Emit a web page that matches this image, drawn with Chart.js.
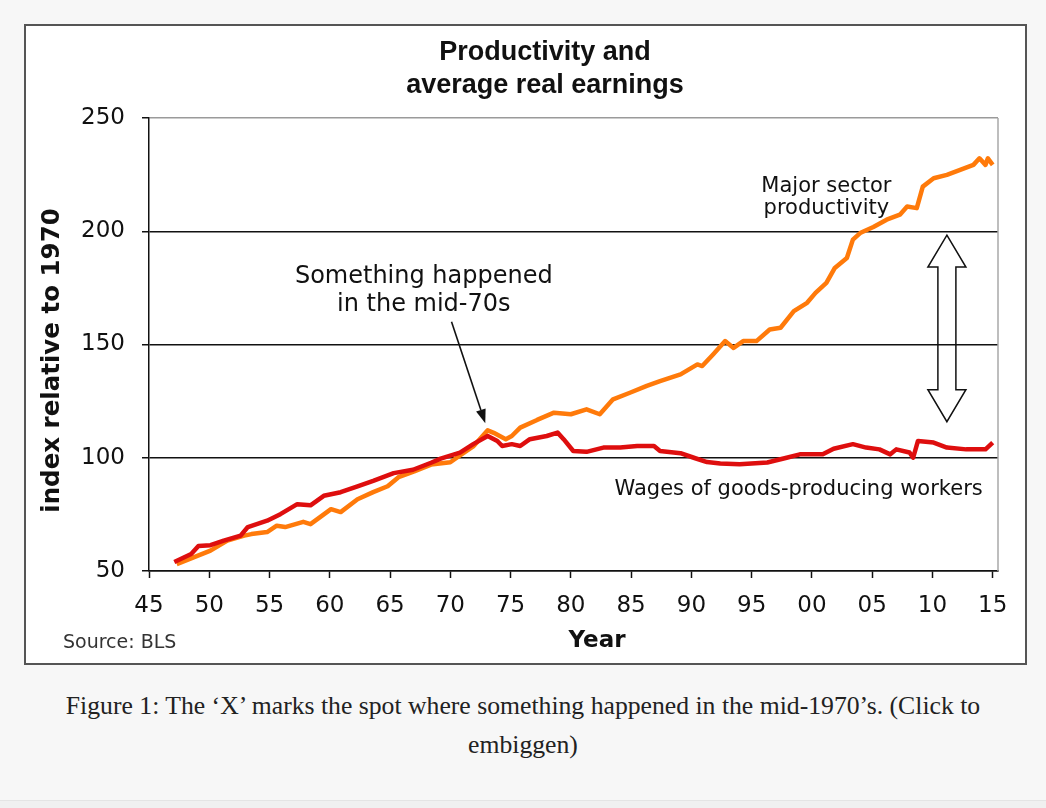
<!DOCTYPE html>
<html>
<head>
<meta charset="utf-8">
<script src="https://cdn.jsdelivr.net/npm/chart.js@4.4.0/dist/chart.umd.min.js"></script>
<style>
html, body { margin: 0; padding: 0; background: #f7f7f7; width: 1046px; height: 808px; overflow: hidden; }
#frame { position: absolute; left: 24px; top: 24px; width: 999px; height: 637px; border: 2px solid #555; background: #fff; }
#frame canvas { display: block; }
#caption { position: absolute; left: 0; top: 686px; width: 1046px; margin: 0; text-align: center;
  font-family: "Liberation Serif", serif; font-size: 25.7px; line-height: 39px; color: #222; }
#foot { position: absolute; left: 0; top: 800px; width: 1046px; height: 8px; background: #f0f0f0; border-top: 1px solid #e4e4e4; }
</style>
</head>
<body>
<div id="frame"><canvas id="chart" width="999" height="637"></canvas></div>
<p id="caption">Figure 1: The ‘X’ marks the spot where something happened in the mid-1970’s. (Click to<br>embiggen)</p>
<div id="foot"></div>
<script>
// values, index 1970 = 100
const prodYears = [1947.3, 1948.7, 1950.1, 1951.5, 1952.9, 1953.5, 1954.8, 1955.6, 1956.3, 1957.8,
  1958.4, 1960.1, 1960.9, 1962.3, 1963.6, 1964.8, 1965.7, 1967.0, 1968.4, 1970.0,
  1970.8, 1971.9, 1973.1, 1973.6, 1974.6, 1975.1, 1975.8, 1977.2, 1978.6, 1980.0,
  1981.3, 1982.4, 1983.5, 1984.9, 1986.3, 1987.4, 1989.1, 1990.5, 1990.9, 1991.8,
  1992.8, 1993.5, 1994.3, 1995.4, 1996.5, 1997.4, 1998.5, 1999.6, 2000.3, 2001.2,
  2001.9, 2002.9, 2003.4, 2004.0, 2005.1, 2006.2, 2007.3, 2007.9, 2008.7, 2009.2,
  2010.1, 2011.2, 2012.3, 2013.4, 2013.9, 2014.4, 2014.6, 2015.0];
const prodIndex = [53, 56, 59, 63.4, 65.6, 66.3, 67.2, 70, 69.4, 71.7,
  70.7, 77.3, 76, 81.7, 84.8, 87.4, 91.4, 94, 97, 98,
  101, 105, 112.1, 111, 108.2, 109.6, 113.3, 116.7, 119.9, 119.2,
  121.4, 119.2, 125.8, 128.7, 131.7, 133.8, 136.8, 141.2, 140.5, 145.6,
  151.5, 148.5, 151.5, 151.5, 156.6, 157.4, 164.7, 168.4, 172.8, 177.2,
  183.8, 188.2, 196.3, 199.2, 201.9, 205.1, 207.3, 210.9, 210.2, 219.7,
  223.4, 224.9, 227.1, 229.3, 232.2, 229.3, 232.2, 229.3];

const wageYears = [1947.1, 1948.5, 1949.1, 1950.1, 1951.2, 1952.6, 1953.2, 1954.8, 1955.9, 1957.3,
  1958.4, 1959.5, 1960.9, 1962.3, 1963.6, 1965.3, 1966.9, 1968.4, 1969.2, 1970.8,
  1971.9, 1973.1, 1973.9, 1974.3, 1975.1, 1975.8, 1976.6, 1978.0, 1978.9, 1979.4,
  1980.2, 1981.3, 1982.7, 1984.1, 1985.5, 1986.9, 1987.4, 1989.1, 1990.2, 1991.3,
  1992.4, 1994.0, 1996.3, 1997.9, 1999.0, 2000.9, 2001.8, 2003.4, 2004.5, 2005.6,
  2006.5, 2007.0, 2008.1, 2008.4, 2008.8, 2010.1, 2011.2, 2012.8, 2014.4, 2015.0];
const wageIndex = [54, 57.5, 61, 61.4, 63.4, 65.6, 69.4, 72.2, 75.1, 79.5,
  79, 83.2, 84.8, 87.4, 89.8, 93.2, 94.7, 97.8, 99.6, 102.3,
  106, 109.6, 107.4, 105.2, 106, 105.2, 108.2, 109.6, 111.1, 108.2,
  103, 102.6, 104.5, 104.5, 105.2, 105.2, 103, 102, 100, 98.1,
  97.5, 97.1, 97.9, 100, 101.5, 101.5, 104, 106, 104.5, 103.7,
  101.5, 103.7, 102.3, 100, 107.4, 106.7, 104.5, 103.7, 103.7, 106.7];

const xTickLabels = ['45', '50', '55', '60', '65', '70', '75', '80', '85', '90', '95', '00', '05', '10', '15'];
const yTickLabels = ['50', '100', '150', '200', '250'];

const titleLines = ['Productivity and', 'average real earnings'];
const yTitle = 'index relative to 1970';
const xTitle = 'Year';
const sourceNote = 'Source: BLS';
const eventNote = ['Something happened', 'in the mid-70s'];
const prodNote = ['Major sector', 'productivity'];
const wageNote = 'Wages of goods-producing workers';

const SANS = '"DejaVu Sans", Verdana, sans-serif';

function arrowTo(ctx, x1, y1, x2, y2) {
  const a = Math.atan2(y2 - y1, x2 - x1);
  const len = 14, half = 5;
  ctx.beginPath();
  ctx.moveTo(x1, y1);
  ctx.lineTo(x2 - len * Math.cos(a), y2 - len * Math.sin(a));
  ctx.stroke();
  ctx.beginPath();
  ctx.moveTo(x2, y2);
  ctx.lineTo(x2 - len * Math.cos(a) + half * Math.sin(a), y2 - len * Math.sin(a) - half * Math.cos(a));
  ctx.lineTo(x2 - len * Math.cos(a) - half * Math.sin(a), y2 - len * Math.sin(a) + half * Math.cos(a));
  ctx.closePath();
  ctx.fill();
}

function doubleArrow(ctx, cx, top, bot) {
  const head = 32, hw = 19, sw = 9;
  ctx.beginPath();
  ctx.moveTo(cx, top);
  ctx.lineTo(cx + hw, top + head);
  ctx.lineTo(cx + sw, top + head);
  ctx.lineTo(cx + sw, bot - head);
  ctx.lineTo(cx + hw, bot - head);
  ctx.lineTo(cx, bot);
  ctx.lineTo(cx - hw, bot - head);
  ctx.lineTo(cx - sw, bot - head);
  ctx.lineTo(cx - sw, top + head);
  ctx.lineTo(cx - hw, top + head);
  ctx.closePath();
  ctx.stroke();
}

const decorations = {
  id: 'decorations',
  beforeDatasetsDraw(chart) {
    const { ctx, chartArea: a } = chart;
    // light right edge of the plot box
    ctx.save();
    ctx.strokeStyle = '#a8a8a8';
    ctx.lineWidth = 1.5;
    ctx.beginPath();
    ctx.moveTo(a.right, a.top);
    ctx.lineTo(a.right, a.bottom);
    ctx.stroke();
    ctx.restore();
  },
  afterDraw(chart) {
    const { ctx, chartArea: a, scales: { x, y } } = chart;
    ctx.save();
    ctx.fillStyle = '#111';
    ctx.strokeStyle = '#111';

    // title
    ctx.textAlign = 'center';
    ctx.textBaseline = 'alphabetic';
    ctx.font = 'bold 27px "Liberation Sans", Arial, sans-serif';
    ctx.fillText(titleLines[0], 519, 34);
    ctx.fillText(titleLines[1], 519, 67);

    // axis titles
    ctx.font = 'bold 23px ' + SANS;
    ctx.fillText(xTitle, a.left + 448, a.bottom + 76);
    ctx.save();
    ctx.translate(27, (a.top + a.bottom) / 2 + 16);
    ctx.rotate(-Math.PI / 2);
    ctx.textBaseline = 'middle';
    ctx.font = 'bold 24.5px ' + SANS;
    ctx.fillText(yTitle, 0, 0);
    ctx.restore();

    ctx.textAlign = 'left';
    ctx.font = '19px ' + SANS;
    ctx.fillStyle = '#333';
    ctx.fillText(sourceNote, 37, a.bottom + 77);
    ctx.fillStyle = '#111';

    // annotations placed in data units
    ctx.textAlign = 'center';
    ctx.font = '24px ' + SANS;
    ctx.fillText(eventNote[0], x.getPixelForValue(1967.8), y.getPixelForValue(177));
    ctx.fillText(eventNote[1], x.getPixelForValue(1967.8), y.getPixelForValue(164.7));
    ctx.lineWidth = 1.6;
    arrowTo(ctx, x.getPixelForValue(1970.1), y.getPixelForValue(160),
      x.getPixelForValue(1972.9), y.getPixelForValue(115.2));

    ctx.font = '21px ' + SANS;
    ctx.fillText(prodNote[0], x.getPixelForValue(2001.2), y.getPixelForValue(217.4));
    ctx.fillText(prodNote[1], x.getPixelForValue(2001.2), y.getPixelForValue(207.5));
    ctx.fillText(wageNote, x.getPixelForValue(1998.9), y.getPixelForValue(83.6));

    ctx.lineWidth = 1.5;
    doubleArrow(ctx, x.getPixelForValue(2011.2), y.getPixelForValue(198.3), y.getPixelForValue(115.9));
    ctx.restore();
  }
};

new Chart(document.getElementById('chart'), {
  type: 'line',
  data: {
    datasets: [
      {
        label: 'Wages of goods-producing workers',
        data: wageYears.map((yr, i) => ({ x: yr, y: wageIndex[i] })),
        borderColor: 'rgb(222, 14, 14)',
        borderWidth: 4.5,
        pointRadius: 0,
        tension: 0,
        borderJoinStyle: 'round'
      },
      {
        label: 'Major sector productivity',
        data: prodYears.map((yr, i) => ({ x: yr, y: prodIndex[i] })),
        borderColor: 'rgb(255, 122, 10)',
        borderWidth: 4.5,
        pointRadius: 0,
        tension: 0,
        borderJoinStyle: 'round'
      }
    ]
  },
  options: {
    responsive: false,
    animation: false,
    layout: { padding: { top: 92, right: 27, left: 0, bottom: 0 } },
    plugins: {
      legend: { display: false },
      tooltip: { enabled: false },
      title: { display: false }
    },
    scales: {
      x: {
        type: 'linear',
        min: 1945,
        max: 2015.44,
        afterFit: s => { s.height = 92; },
        ticks: {
          stepSize: 5,
          includeBounds: false,
          autoSkip: false,
          maxRotation: 0,
          padding: 14,
          color: '#111',
          font: { family: SANS, size: 23 },
          callback: v => xTickLabels[Math.round((v - 1945) / 5)]
        },
        grid: { drawOnChartArea: false, drawTicks: true, tickLength: 7, tickColor: '#111', tickWidth: 1.5 },
        border: { color: '#111', width: 1.5 }
      },
      y: {
        min: 50,
        max: 250,
        afterFit: s => { s.width = 123; },
        ticks: {
          stepSize: 50,
          padding: 17,
          color: '#111',
          font: { family: SANS, size: 23 },
          callback: v => yTickLabels[Math.round((v - 50) / 50)]
        },
        grid: {
          color: c => (c.tick && c.tick.value === 250 ? '#9a9a9a' : '#111'),
          lineWidth: 1.5,
          tickLength: 7,
          tickColor: '#111',
          tickWidth: 1.5
        },
        border: { color: '#111', width: 1.5 }
      }
    }
  },
  plugins: [decorations]
});
</script>
</body>
</html>
